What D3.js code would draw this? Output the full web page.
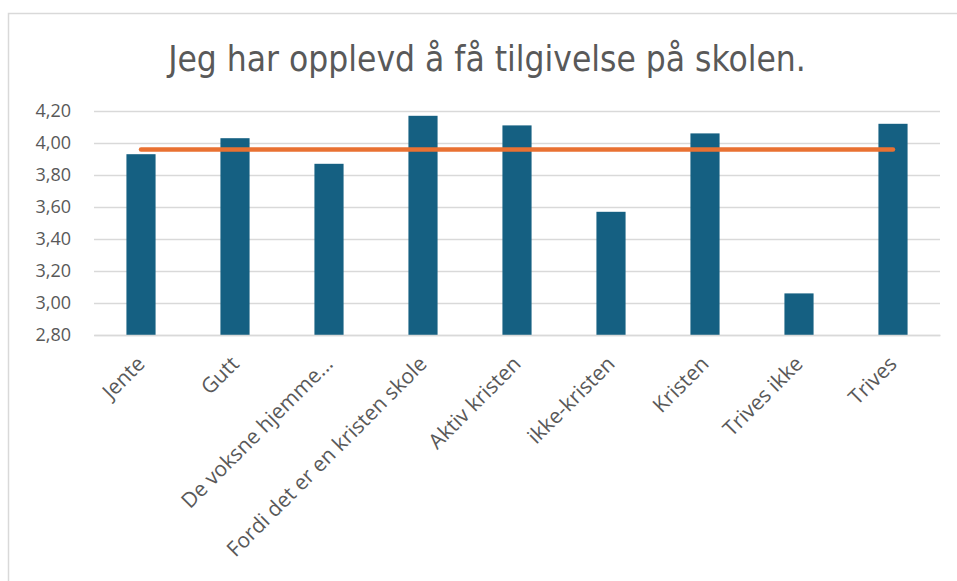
<!DOCTYPE html>
<html>
<head>
<meta charset="utf-8">
<script src="https://cdn.jsdelivr.net/npm/d3@7"></script>
<style>
  body { margin: 0; background: #fff; }
  text { font-family: "Open Sans", "Liberation Sans", sans-serif; fill: #595959; }
</style>
</head>
<body>
<svg id="chart" width="957" height="581"></svg>
<script>
// data
const categories = ["Jente", "Gutt", "De voksne hjemme...", "Fordi det er en kristen skole",
  "Aktiv kristen", "ikke-kristen", "Kristen", "Trives ikke", "Trives"];
const values = [3.93, 4.03, 3.87, 4.17, 4.11, 3.57, 4.06, 3.06, 4.12];
const average = [3.96, 3.96, 3.96, 3.96, 3.96, 3.96, 3.96, 3.96, 3.96];
const yTicks = [2.8, 3.0, 3.2, 3.4, 3.6, 3.8, 4.0, 4.2];
const title = "Jeg har opplevd å få tilgivelse på skolen.";

var svg = d3.select("#chart");
const width = +svg.attr("width");
const height = +svg.attr("height");

// plot area
const plotLeft = 94, plotRight = 940, plotTop = 111, plotBottom = 335;

// outer chart frame (runs off the right/bottom edge like the screenshot)
svg.append("rect")
  .attr("x", 8.5).attr("y", 13.5)
  .attr("width", 1000).attr("height", 700)
  .attr("fill", "none")
  .attr("stroke", "#d9d9d9")
  .attr("stroke-width", 1.5);

svg.append("text")
  .attr("x", 487).attr("y", 71)
  .attr("text-anchor", "middle")
  .style("font-family", "'Liberation Sans Narrow', 'DejaVu Sans Condensed', sans-serif")
  .style("font-size", "35px")
  .text(title);

var x = d3.scaleBand()
  .domain(categories)
  .range([plotLeft, plotRight])
  .paddingInner(0.69)
  .paddingOuter(0.345);

var xc = d3.scaleBand().domain(categories).range([plotLeft, plotRight]);

var y = d3.scaleLinear()
  .domain([2.8, 4.2])
  .range([plotBottom, plotTop]);

var fmt = (d) => d3.format(".2f")(d).replace(".", ",");

// gridlines + y labels
var yAxis = d3.axisLeft(y).tickValues(yTicks).tickFormat(fmt)
  .tickSize(-(plotRight - plotLeft)).tickPadding(23);
var gy = svg.append("g")
  .attr("transform", "translate(" + plotLeft + ",0)")
  .call(yAxis);
gy.select(".domain").remove();
gy.selectAll(".tick line").attr("stroke", "#d9d9d9").attr("stroke-width", 1.3);
gy.selectAll(".tick text")
  .style("font-size", "18px")
  .style("font-family", "'Open Sans', sans-serif")
  .attr("fill", "#595959");

// bars
svg.selectAll("rect.bar")
  .data(values)
  .enter()
  .append("rect")
  .attr("class", "bar")
  .attr("x", (d, i) => x(categories[i]))
  .attr("width", x.bandwidth())
  .attr("y", (d) => y(d))
  .attr("height", (d) => y(2.8) - y(d))
  .attr("fill", "#156082");

// x axis
var xAxis = d3.axisBottom(xc).tickSize(0).tickPadding(0);
var gx = svg.append("g")
  .attr("transform", "translate(0," + plotBottom + ")")
  .call(xAxis);
gx.select(".domain").attr("stroke", "#d9d9d9").attr("stroke-width", 1.3);
gx.selectAll(".tick text")
  .style("font-size", "21px")
  .style("font-family", "'Open Sans', sans-serif")
  .attr("fill", "#595959")
  .attr("text-anchor", "end")
  .attr("dy", "0.35em")
  .attr("transform", "translate(0,25) rotate(-45)");

// average line
var line = d3.line()
  .x((d, i) => xc(categories[i]) + xc.bandwidth() / 2)
  .y((d) => y(d));
svg.append("path")
  .datum(average)
  .attr("d", line)
  .attr("fill", "none")
  .attr("stroke", "#e97132")
  .attr("stroke-width", 4.5)
  .attr("stroke-linecap", "round");
</script>
</body>
</html>
